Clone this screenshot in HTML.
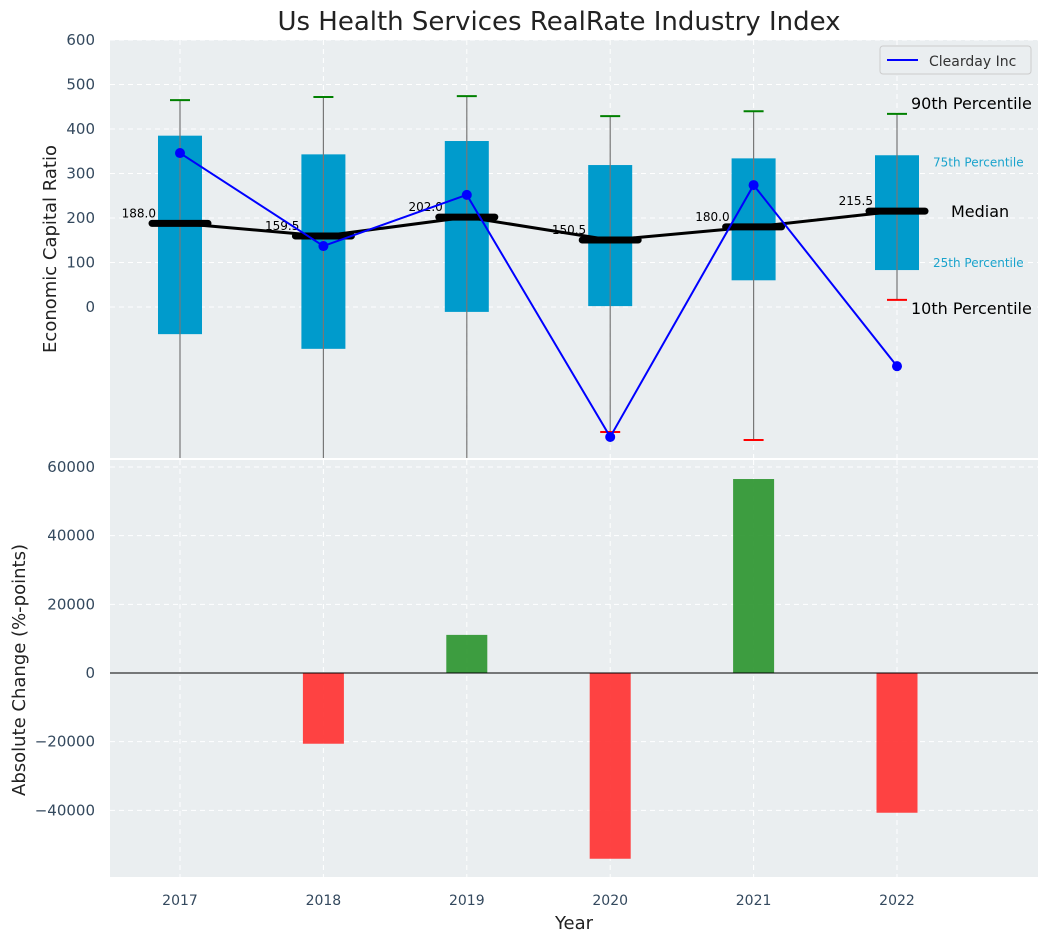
<!DOCTYPE html>
<html><head><meta charset="utf-8"><style>
body{margin:0;background:#fff;}
svg{display:block;font-family:"DejaVu Sans","Liberation Sans",sans-serif;}
</style></head><body>
<svg id="c" width="1048" height="942" viewBox="0 0 1048 942"></svg>
<script>
const years=[2017,2018,2019,2020,2021,2022];
const p10=[-400,-400,-400,-281,-299,16];
const p25=[-61,-94,-11,2,60,83];
const medians=[188,159.5,202,150.5,180,215.5];
const p75=[385,343,373,319,334,341];
const p90=[465,472,474,429,440,434];
const clearday=[346,137,252,-292,274,-133];
const changes=[0,-20600,11100,-54100,56500,-40700];
const topTicks=[0,100,200,300,400,500,600];
const botTicks=[-40000,-20000,0,20000,40000,60000];

const NS="http://www.w3.org/2000/svg";
const svg=document.getElementById('c');
function mk(tag,attrs,parent,text){const e=document.createElementNS(NS,tag);for(const k in attrs)e.setAttribute(k,attrs[k]);if(text!==undefined)e.textContent=text;(parent||svg).appendChild(e);return e;}
const L=110,R=1038;
const x=y=>180+(y-2017)*143.4;
const yT=v=>307-v*0.445;
const yB=v=>673-v*(206/60000);
const T1=40,B1=458,T2=460,B2=877;

let e;
e=mk('text',{x:559,y:30,'text-anchor':'middle','font-size':26,fill:'#222'},svg,'Us Health Services RealRate Industry Index');

e=mk('rect',{x:L,y:T1,width:R-L,height:B1-T1,fill:'#eaeef0'});

e=mk('rect',{x:L,y:T2,width:R-L,height:B2-T2,fill:'#eaeef0'});

const g='#fff';
topTicks.forEach(t=>{
 e=mk('line',{x1:L,x2:R,y1:yT(t),y2:yT(t),stroke:g,'stroke-dasharray':'5,4','stroke-width':1});
 
 e=mk('text',{x:95,y:yT(t)+5,'text-anchor':'end','font-size':15,fill:'#34495e'},svg,String(t));
 
});
botTicks.forEach(t=>{
 e=mk('line',{x1:L,x2:R,y1:yB(t),y2:yB(t),stroke:g,'stroke-dasharray':'5,4','stroke-width':1});
 
 e=mk('text',{x:95,y:yB(t)+5,'text-anchor':'end','font-size':15,fill:'#34495e'},svg,(t<0?'\u2212':'')+Math.abs(t));
 
});
years.forEach(yr=>{
 [[T1,B1],[T2,B2]].forEach(([a,b])=>{
  e=mk('line',{x1:x(yr),x2:x(yr),y1:a,y2:b,stroke:g,'stroke-dasharray':'5,4'});
  
 });
 e=mk('text',{x:x(yr),y:905,'text-anchor':'middle','font-size':14,fill:'#34495e'},svg,String(yr));
 
});
const clipT=mk('clipPath',{id:'ct'});mk('rect',{x:L,y:T1,width:R-L,height:B1-T1},clipT);
const gt=mk('g',{'clip-path':'url(#ct)'});

years.forEach((yr,i)=>{
 const cx=x(yr);
 e=mk('rect',{x:cx-22,y:yT(p75[i]),width:44,height:yT(p25[i])-yT(p75[i]),fill:'#009bcc'},gt);
 
 e=mk('line',{x1:cx,x2:cx,y1:yT(p90[i]),y2:yT(p10[i]),stroke:'#777','stroke-width':1.2},gt);
 
 e=mk('line',{x1:cx-10,x2:cx+10,y1:yT(p90[i]),y2:yT(p90[i]),stroke:'green','stroke-width':2},gt);
 
 e=mk('line',{x1:cx-10,x2:cx+10,y1:yT(p10[i]),y2:yT(p10[i]),stroke:'red','stroke-width':2},gt);
 
});
e=mk('polyline',{points:years.map((yr,i)=>x(yr)+','+yT(medians[i])).join(' '),fill:'none',stroke:'#000','stroke-width':3},gt);

years.forEach((yr,i)=>{
 const cx=x(yr);
 e=mk('line',{x1:cx-28,x2:cx+28,y1:yT(medians[i]),y2:yT(medians[i]),stroke:'#000','stroke-width':7,'stroke-linecap':'round'},gt);
 
 e=mk('text',{x:cx-24,y:yT(medians[i])-6,'text-anchor':'end','font-size':12,fill:'#000'},gt,medians[i].toFixed(1));
 
});
e=mk('polyline',{points:years.map((yr,i)=>x(yr)+','+yT(clearday[i])).join(' '),fill:'none',stroke:'blue','stroke-width':2},gt);

years.forEach((yr,i)=>{
 e=mk('circle',{cx:x(yr),cy:yT(clearday[i]),r:5,fill:'blue'},gt);
 
});
const lx=x(2022);
[['90th Percentile',lx+14,yT(p90[5])-5,16,'#000'],['75th Percentile',lx+36,yT(p75[5])+11,12,'#1aa3cc'],['Median',lx+54,yT(medians[5])+6,16,'#000'],['25th Percentile',lx+36,yT(p25[5])-3,12,'#1aa3cc'],['10th Percentile',lx+14,yT(p10[5])+14,16,'#000']].forEach(a=>{
 e=mk('text',{x:a[1],y:a[2],'font-size':a[3],fill:a[4]},svg,a[0]);
 
});
const lg=mk('g',{});

mk('rect',{x:880,y:46,width:151,height:28,rx:3,fill:'#eaeef0',stroke:'#ccc'},lg);
mk('line',{x1:887,x2:918,y1:60,y2:60,stroke:'blue','stroke-width':2},lg);
mk('text',{x:929,y:66,'font-size':14,fill:'#333'},lg,'Clearday Inc');
years.forEach((yr,i)=>{
 const v=changes[i];if(v===0)return;
 e=mk('rect',{x:x(yr)-20.5,y:Math.min(yB(v),yB(0)),width:41,height:Math.abs(yB(v)-yB(0)),fill:v>0?'#2e9631':'#ff3333','fill-opacity':0.92});
 
});
e=mk('line',{x1:L,x2:R,y1:yB(0),y2:yB(0),stroke:'#000','stroke-width':1});

e=mk('text',{x:0,y:0,'font-size':18,fill:'#222','text-anchor':'middle',transform:'translate(56,249) rotate(-90)'},svg,'Economic Capital Ratio');

e=mk('text',{x:0,y:0,'font-size':18,fill:'#222','text-anchor':'middle',transform:'translate(25,670) rotate(-90)'},svg,'Absolute Change (%-points)');

e=mk('text',{x:574,y:929,'font-size':18,fill:'#222','text-anchor':'middle'},svg,'Year');

</script>
</body></html>
